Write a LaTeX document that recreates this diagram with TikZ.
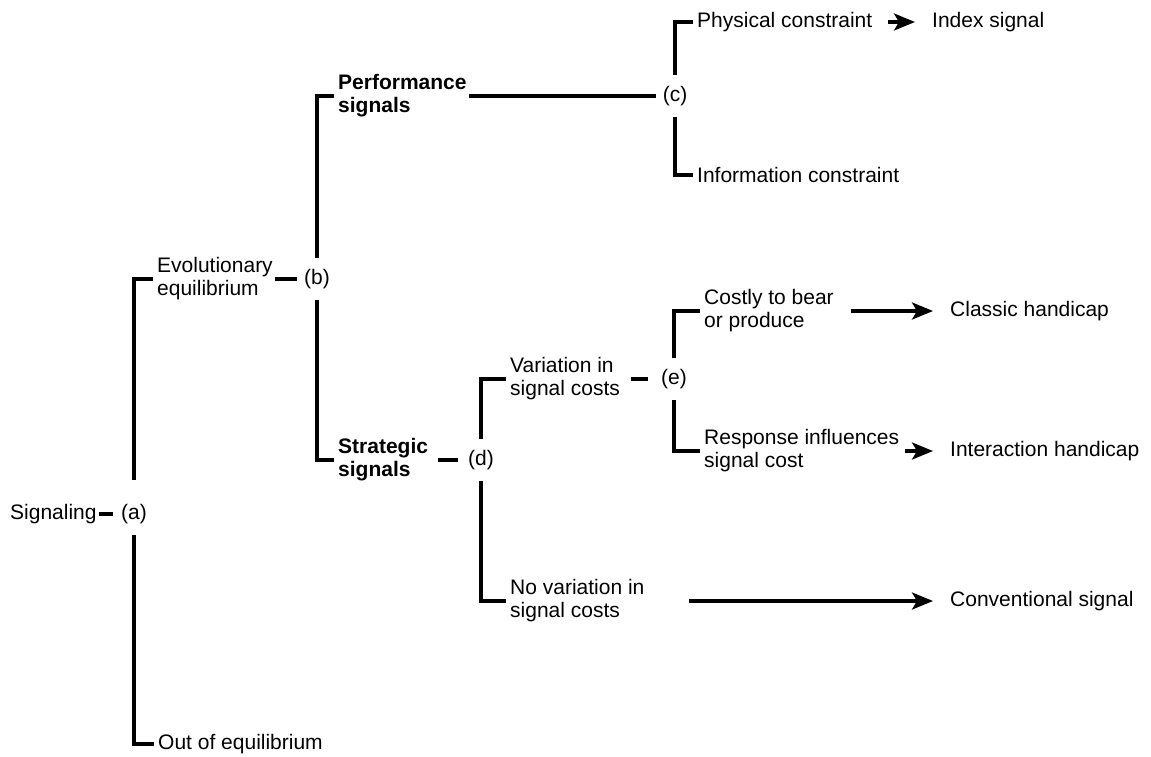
\documentclass[tikz,border=0pt]{standalone}
\usepackage{fontspec}
\setmainfont{Liberation Sans}
\usetikzlibrary{arrows.meta}

\begin{document}
\begin{tikzpicture}[x=1pt,y=-1pt,
	txt/.style={inner sep=0pt,anchor=west,align=left,font=\fontsize{21}{23}\selectfont},
	bld/.style={txt,font=\fontsize{21}{23}\selectfont\bfseries},
	junc/.style={inner xsep=2pt,inner ysep=11pt,font=\fontsize{21}{23}\selectfont},
	tree/.style={line width=3.2pt},
	brk/.style={tree,shorten >=4pt},
	arr/.style={line width=3.2pt,-{Stealth[length=21pt,width=17pt,inset=5pt]}}]
			\useasboundingbox (0,0) rectangle (1151,756);
			\node[txt] (sig) at (10,514) {Signaling};
			\node[junc] (a) at (134,514) {(a)};
			\node[txt] (evo) at (157,279) {Evolutionary\\equilibrium};
			\node[txt] (out) at (158,744) {Out of equilibrium};
			\node[junc] (b) at (317,279) {(b)};
			\node[bld] (perf) at (338,96) {Performance\\signals};
			\node[bld] (strat) at (338,460) {Strategic\\signals};
			\node[junc] (c) at (675,96) {(c)};
			\node[txt] (phys) at (697,22) {Physical constraint};
			\node[txt] (info) at (697,175) {Information constraint};
			\node[txt] (index) at (932,22) {Index signal};
			\node[junc] (d) at (481,460) {(d)};
			\node[txt] (var) at (510,379) {Variation in\\signal costs};
			\node[txt] (novar) at (510,601) {No variation in\\signal costs};
			\node[junc] (e) at (674,379) {(e)};
			\node[txt] (costly) at (704,311) {Costly to bear\\or produce};
			\node[txt] (resp) at (704,451) {Response influences\\signal cost};
			\node[txt] (classic) at (950,311) {Classic handicap};
			\node[txt] (inter) at (950,451) {Interaction handicap};
			\node[txt] (conv) at (950,601) {Conventional signal};
			\draw[tree,shorten <=2pt,shorten >=6pt] (sig.east) -- (a.west);
			\draw[brk] ([yshift=13pt]a.north) |- (evo.west);
			\draw[brk] (a.south) |- (out.west);
			\draw[tree,shorten <=2pt,shorten >=5pt] (evo.east) -- (b.west);
			\draw[brk] (b.north) |- (perf.west);
			\draw[brk] (b.south) |- (strat.west);
			\draw[tree,shorten <=2pt,shorten >=5pt] (perf.east) -- (c.west);
			\draw[brk] (c.north) |- (phys.west);
			\draw[brk] (c.south) |- (info.west);
			\draw[arr,shorten <=16pt,shorten >=17pt] (phys.east) -- (index.west);
			\draw[tree,shorten <=10pt,shorten >=8pt] (strat.east) -- (d.west);
			\draw[brk] (d.north) |- (var.west);
			\draw[brk] (d.south) |- (novar.west);
			\draw[tree,shorten <=11pt,shorten >=11pt] (var.east) -- (e.west);
			\draw[brk] (e.north) |- (costly.west);
			\draw[brk] (e.south) |- (resp.west);
			\draw[arr,shorten <=17pt,shorten >=17pt] (costly.east) -- (classic.west);
			\draw[arr,shorten <=6pt,shorten >=17pt] (resp.east) -- (inter.west);
			\draw[arr,shorten <=44pt,shorten >=17pt] (novar.east) -- (conv.west);
		\end{tikzpicture}
\end{document}
